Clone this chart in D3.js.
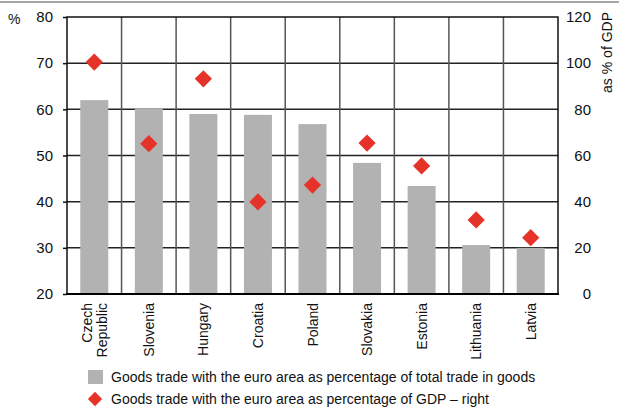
<!DOCTYPE html>
<html>
<head>
	<meta charset="utf-8">
	<title>Euro area trade</title>
	<style>
		body { margin: 0; background: #fff; }
		text { font-family: "Liberation Sans Narrow", "Arial Narrow", "Liberation Sans", sans-serif; fill: #111; }
	</style>
</head>
<body>
	<script src="https://d3js.org/d3.v7.min.js"></script>
	<script>
var countries = ['Czech Republic', 'Slovenia', 'Hungary', 'Croatia', 'Poland', 'Slovakia', 'Estonia', 'Lithuania', 'Latvia'];
var shareOfTrade = [62.0, 60.2, 59.0, 58.8, 56.8, 48.4, 43.4, 30.6, 30.0];
var shareOfGdp = [100.5, 65.1, 93.2, 39.9, 47.2, 65.4, 55.5, 32.1, 24.4];
var leftTicks = [20, 30, 40, 50, 60, 70, 80];
var rightTicks = [0, 20, 40, 60, 80, 100, 120];
var legendLabels = ['Goods trade with the euro area as percentage of total trade in goods',
	'Goods trade with the euro area as percentage of GDP \u2013 right'];

var W = 619, H = 412;
var mLeft = 67, mRight = 558, mTop = 17, mBottom = 294;

var svg = d3.select('body').append('svg')
	.attr('width', W)
	.attr('height', H);

var x = d3.scaleBand().domain(countries).range([mLeft, mRight]);
var yL = d3.scaleLinear().domain([20, 80]).range([mBottom, mTop]);
var yR = d3.scaleLinear().domain([0, 120]).range([mBottom, mTop]);

// top rule
svg.append('line')
	.attr('x1', 0).attr('x2', W).attr('y1', 2).attr('y2', 2)
	.attr('stroke', '#8a8a8a').attr('stroke-width', 1.5);

// horizontal grid
svg.append('g').selectAll('line')
	.data(leftTicks.slice(1, -1))
	.enter().append('line')
	.attr('x1', mLeft).attr('x2', mRight)
	.attr('y1', function(d) { return yL(d); })
	.attr('y2', function(d) { return yL(d); })
	.attr('stroke', '#222').attr('stroke-width', 1.5);

// vertical separators
svg.append('g').selectAll('line')
	.data(countries.slice(1))
	.enter().append('line')
	.attr('x1', function(d) { return x(d); })
	.attr('x2', function(d) { return x(d); })
	.attr('y1', mTop).attr('y2', mBottom)
	.attr('stroke', '#555').attr('stroke-width', 1.5);

// bars
svg.append('g').selectAll('rect')
	.data(shareOfTrade)
	.enter().append('rect')
	.attr('x', function(d, i) { return x(countries[i]) + x.bandwidth() / 2 - 14; })
	.attr('width', 28)
	.attr('y', function(d) { return yL(d); })
	.attr('height', function(d) { return mBottom - yL(d); })
	.attr('fill', '#b2b2b2');

// frame
svg.append('rect')
	.attr('x', mLeft).attr('y', mTop)
	.attr('width', mRight - mLeft).attr('height', mBottom - mTop)
	.attr('fill', 'none').attr('stroke', '#111').attr('stroke-width', 1.5);
svg.append('line')
	.attr('x1', mLeft - 1).attr('x2', mRight + 1).attr('y1', mBottom).attr('y2', mBottom)
	.attr('stroke', '#000').attr('stroke-width', 2);

// diamonds
var diamond = d3.symbol().type(d3.symbolDiamond2).size(190);
svg.append('g').selectAll('path')
	.data(shareOfGdp)
	.enter().append('path')
	.attr('d', diamond)
	.attr('transform', function(d, i) {
		return 'translate(' + (x(countries[i]) + x.bandwidth() / 2) + ',' + yR(d) + ')';
	})
	.attr('fill', '#e5332a');

// left axis
var gl = svg.append('g').attr('transform', 'translate(' + mLeft + ',0)')
	.call(d3.axisLeft(yL).tickValues(leftTicks).tickSize(4).tickPadding(10));
gl.select('.domain').remove();
gl.selectAll('line').attr('stroke', '#111').attr('stroke-width', 1.5);
gl.selectAll('text').style('font-size', '15px');

// right axis
var gr = svg.append('g').attr('transform', 'translate(' + mRight + ',0)')
	.call(d3.axisRight(yR).tickValues(rightTicks).tickSize(0).tickPadding(12));
gr.select('.domain').remove();
gr.selectAll('text').attr('text-anchor', 'end').attr('x', 33).style('font-size', '15px');

svg.append('text').attr('x', 8).attr('y', 24).style('font-size', '14px').text('%');
svg.append('text')
	.attr('transform', 'translate(612,12) rotate(-90)')
	.attr('text-anchor', 'end')
	.style('font-size', '14px')
	.text('as % of GDP');

// category labels
var cl = svg.append('g').selectAll('text')
	.data(countries)
	.enter().append('text')
	.attr('transform', function(d) {
		var n = d.split(' ').length;
		return 'translate(' + (x(d) + x.bandwidth() / 2 + 5 - (n - 1) * 7) + ',303) rotate(-90)';
	})
	.attr('text-anchor', 'end')
	.style('font-size', '14px');
cl.each(function(d) {
	var parts = d.split(' ');
	var t = d3.select(this);
	parts.forEach(function(p, j) {
		t.append('tspan').attr('x', 0).attr('dy', j === 0 ? 0 : 15).text(p);
	});
});

// legend
var lg = svg.append('g');
lg.append('rect').attr('x', 88).attr('y', 370).attr('width', 15).attr('height', 14).attr('fill', '#b2b2b2');
lg.append('path').attr('d', d3.symbol().type(d3.symbolDiamond2).size(130))
	.attr('transform', 'translate(95,399)').attr('fill', '#e5332a');
lg.selectAll('text')
	.data(legendLabels)
	.enter().append('text')
	.attr('x', 111)
	.attr('y', function(d, i) { return 382 + i * 22; })
	.style('font-size', '14px')
	.text(function(d) { return d; });
	</script>
</body>
</html>
